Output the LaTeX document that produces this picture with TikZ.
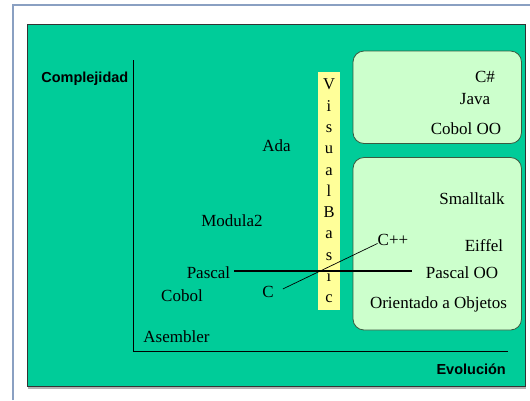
\documentclass[tikz,border=0pt]{standalone}
\usepackage{fontspec}
\setmainfont{Liberation Serif}
\newfontfamily\boldsans{Liberation Sans}
\definecolor{frameblue}{HTML}{8AA0C2}
\definecolor{bggreen}{HTML}{00CC99}
\definecolor{boxgreen}{HTML}{CCFFCC}
\definecolor{vbyellow}{HTML}{FFFF99}
\definecolor{boxline}{HTML}{3A5A40}
\begin{document}
\begin{tikzpicture}[x=1pt,y=-1pt,
  lbl/.style={font=\fontsize{17}{20}\selectfont, inner sep=2pt, anchor=base},
  axlbl/.style={font=\boldsans\bfseries\fontsize{14.5}{17}\selectfont, inner sep=1pt, anchor=base},
  groupbox/.style={draw=boxline, line width=0.8pt, fill=boxgreen, rounded corners=11pt},
  axis/.style={draw=black, line width=0.8pt}]
\useasboundingbox (0,0) rectangle (530,400);
\fill[white] (0,0) rectangle (530,400);
% page frame
\draw[frameblue, line width=2pt] (13,400) -- (13,5) -- (530,5);
% background
\fill[gray!60] (28,386) rectangle (526,388.5);
\draw[fill=bggreen, draw=black!80, line width=1pt] (27,24) rectangle (525.5,386);
% axes
\coordinate (top) at (133.5,60);
\coordinate (origin) at (133.5,351);
\coordinate (right) at (508,351);
\draw[axis] (top) -- (origin) -- (right);
\node[axlbl, anchor=base east] (compl) at (129.5,82) {Complejidad};
\node[axlbl, anchor=base east] (evol) at (507,374) {Evolución};
% group boxes
\draw[groupbox] (353,51) rectangle (521.5,143.5);
\draw[groupbox] (353,157.5) rectangle (521.5,330);
% Visual Basic bar
\node[fill=vbyellow, minimum width=22pt, minimum height=238pt, inner sep=0pt,
      align=center, font=\fontsize{16.5}{21.3}\selectfont] (vb) at (329,191)
  {V\\i\\s\\u\\a\\l\\B\\a\\s\\i\\c};
% labels
\node[lbl] (csharp) at (485,82) {C\#};
\node[lbl] (java) at (475,104) {Java};
\node[lbl] (coboloo) at (466,134) {Cobol OO};
\node[lbl] (ada) at (276.5,151) {Ada};
\node[lbl] (modula) at (232,226) {Modula2};
\node[lbl] (smalltalk) at (472,204.5) {Smalltalk};
\node[lbl] (eiffel) at (484,251) {Eiffel};
\node[lbl] (cpp) at (393,245) {C++};
\node[lbl] (pascal) at (208.5,278) {Pascal};
\node[lbl] (pascaloo) at (462,278.5) {Pascal OO};
\node[lbl] (cobol) at (182,301) {Cobol};
\node[lbl] (c) at (268,297) {C};
\node[lbl] (oo) at (438.5,308) {Orientado a Objetos};
\node[lbl] (asm) at (176.5,342) {Asembler};
% connectors
\draw[line width=2.2pt, shorten <=2pt, shorten >=12pt]
  ([yshift=1.5pt]pascal.east) -- ([yshift=1.5pt]pascal.east -| pascaloo.west);
\draw[line width=0.7pt]
  ([xshift=7pt,yshift=2.5pt]c.east) -- ([xshift=2pt,yshift=-4pt]cpp.west);
\end{tikzpicture}
\end{document}
